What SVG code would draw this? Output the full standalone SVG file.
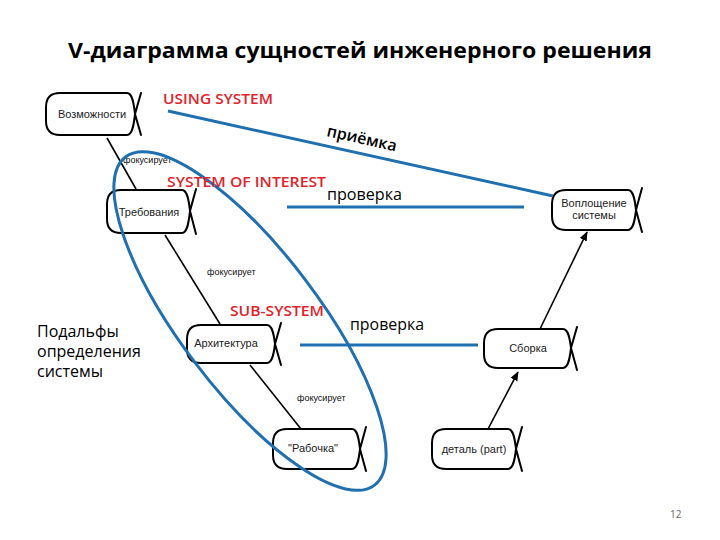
<svg xmlns="http://www.w3.org/2000/svg" width="720" height="540" viewBox="0 0 720 540">
<style>
.node path{fill:none;stroke:#000;stroke-width:2;stroke-linecap:round}
.nt{font-family:"Liberation Sans",Arial,sans-serif;font-size:11px;fill:#222;text-anchor:middle}
.conn line{stroke:#000;stroke-width:1.6}
.blue{stroke:#2070b0;stroke-width:3;fill:none}
.red{font-family:"Open Sans","Liberation Sans",sans-serif;font-size:15px;font-weight:600;fill:#e3222c}
.lbl{font-family:"Open Sans","Liberation Sans",sans-serif;font-size:16px;fill:#000}
.foc{font-family:"Liberation Sans",Arial,sans-serif;font-size:9px;fill:#111}
</style>
<defs>
<marker id="ah" viewBox="0 0 10 10" refX="9" refY="5" markerWidth="6" markerHeight="6" orient="auto-start-reverse">
<path d="M0,1 L10,5 L0,9 z" fill="#000"/>
</marker>
</defs>
<rect width="720" height="540" fill="#fff"/>
<text x="360" y="58" text-anchor="middle" font-family="'Open Sans','Liberation Sans',sans-serif" font-size="21" font-weight="bold" textLength="584" lengthAdjust="spacingAndGlyphs">V-диаграмма сущностей инженерного решения</text>

<g id="connectors" class="conn">
<line x1="107" y1="138" x2="136" y2="189"/>
<line x1="165" y1="235" x2="220" y2="324"/>
<line x1="250" y1="365" x2="301" y2="429"/>
<line x1="488" y1="429" x2="518" y2="372" marker-end="url(#ah)"/>
<line x1="540" y1="329" x2="587" y2="232" marker-end="url(#ah)"/>
</g>

<g id="n1" class="node">
<path d="M60,93 H127 C133,93 134,106 135,114 L141,135 M60,135 H127 C133,135 134,122 135,114 L141,93 M60,93 Q46,93 46,107 V121 Q46,135 60,135"/>
<text class="nt" x="92" y="118">Возможности</text>
</g>
<g id="n2" class="node">
<path d="M121,190 H182 C188,190 189,203 190,211 L196,234 M121,233 H182 C188,233 189,219 190,211 L196,189 M121,190 Q107,190 107,204 V219 Q107,233 121,233"/>
<text class="nt" x="149" y="216">Требования</text>
</g>
<g id="n3" class="node">
<path d="M201,325 H267 C273,325 274,337 275,344 L281,365 M201,363 H267 C273,363 274,351 275,344 L281,323 M201,325 Q187,325 187,339 V349 Q187,363 201,363"/>
<text class="nt" x="226" y="347">Архитектура</text>
</g>
<g id="n4" class="node">
<path d="M287,429 H352 C358,429 359,441 360,449 L366,471 M287,469 H352 C358,469 359,457 360,449 L366,427 M287,429 Q273,429 273,443 V455 Q273,469 287,469"/>
<text class="nt" x="313" y="452">"Рабочка"</text>
</g>
<g id="n5" class="node">
<path d="M446,429 H508 C514,429 515,441 516,449 L522,471 M446,469 H508 C514,469 515,457 516,449 L522,427 M446,429 Q432,429 432,443 V455 Q432,469 446,469"/>
<text class="nt" x="474" y="453">деталь (part)</text>
</g>
<g id="n6" class="node">
<path d="M498,329 H563 C569,329 570,341 571,348 L577,370 M498,368 H563 C569,368 570,356 571,348 L577,327 M498,329 Q484,329 484,343 V354 Q484,368 498,368"/>
<text class="nt" x="528" y="352">Сборка</text>
</g>
<g id="n7" class="node">
<path d="M566,190 H628 C634,190 635,202 636,210 L642,232 M566,230 H628 C634,230 635,218 636,210 L642,188 M566,190 Q552,190 552,204 V216 Q552,230 566,230"/>
<text class="nt" x="594" y="207">Воплощение</text>
<text class="nt" x="594" y="219">системы</text>
</g>

<text class="foc" x="123" y="163">фокусирует</text>
<text class="foc" x="207" y="275">фокусирует</text>
<text class="foc" x="297" y="401">фокусирует</text>

<g id="blue">
<line class="blue" x1="168" y1="111" x2="553" y2="196"/>
<line class="blue" x1="287" y1="207" x2="524" y2="207"/>
<line class="blue" x1="300" y1="345" x2="478" y2="345"/>
<ellipse class="blue" cx="250" cy="321" rx="206" ry="69" transform="rotate(52.8 250 321)"/>
</g>

<text class="red" x="163" y="104" textLength="110" lengthAdjust="spacingAndGlyphs">USING SYSTEM</text>
<text class="red" x="167" y="187" textLength="159" lengthAdjust="spacingAndGlyphs">SYSTEM OF INTEREST</text>
<text class="red" x="230" y="316" textLength="94" lengthAdjust="spacingAndGlyphs">SUB-SYSTEM</text>
<text class="lbl" x="326" y="136" transform="rotate(12.5 326 136)" font-weight="600">приёмка</text>
<text class="lbl" x="327" y="200" textLength="75" lengthAdjust="spacingAndGlyphs">проверка</text>
<text class="lbl" x="350" y="330" textLength="74" lengthAdjust="spacingAndGlyphs">проверка</text>
<text class="lbl" x="37" y="337">Подальфы</text>
<text class="lbl" x="37" y="357">определения</text>
<text class="lbl" x="37" y="377">системы</text>
<text x="670" y="518" font-family="'Open Sans','Liberation Sans',sans-serif" font-size="10" fill="#666">12</text>
</svg>
